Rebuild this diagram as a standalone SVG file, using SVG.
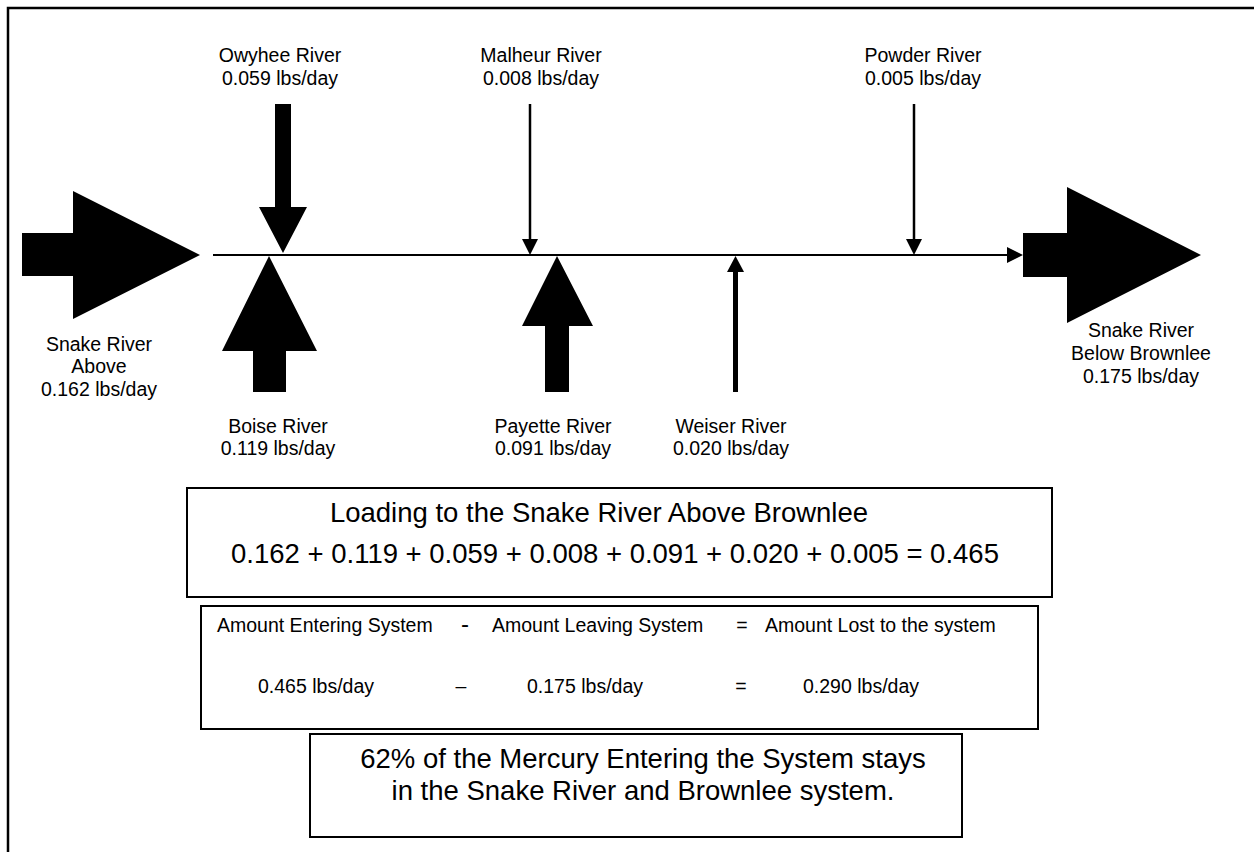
<svg xmlns="http://www.w3.org/2000/svg" width="1254" height="852" viewBox="0 0 1254 852">
<style>
text{font-family:"Liberation Sans",Arial,sans-serif;fill:#000}
.lbl{font-size:19.5px;text-anchor:middle}
.sm{font-size:19.5px}
.big{font-size:27.5px;text-anchor:middle}
.box{fill:#fff;stroke:#000;stroke-width:2}
.blk{fill:#000;stroke:none}
.ln{stroke:#000;fill:none}
</style>
<rect width="1254" height="852" fill="#fff"/>
<path d="M8,852 V8 H1254" class="ln" stroke-width="2.5"/>
<g id="connectors">
<line x1="213" y1="255" x2="1008" y2="255" class="ln" stroke-width="2"/>
<polygon points="1007,247 1023,255 1007,263" class="blk"/>
</g>
<g id="snake-above">
<polygon points="22,233 73,233 73,191 200,255 73,319 73,276 22,276" class="blk"/>
<text class="lbl" x="99" y="351">Snake River</text>
<text class="lbl" x="99" y="373">Above</text>
<text class="lbl" x="99" y="396">0.162 lbs/day</text>
</g>
<g id="snake-below">
<polygon points="1023,233 1067,233 1067,187 1201,255 1067,323 1067,277 1023,277" class="blk"/>
<text class="lbl" x="1141" y="337">Snake River</text>
<text class="lbl" x="1141" y="360">Below Brownlee</text>
<text class="lbl" x="1141" y="383">0.175 lbs/day</text>
</g>
<g id="owyhee">
<polygon points="275,104 291,104 291,207 307,207 283,253 259,207 275,207" class="blk"/>
<text class="lbl" x="280" y="62">Owyhee River</text>
<text class="lbl" x="280" y="85">0.059 lbs/day</text>
</g>
<g id="malheur">
<line x1="530" y1="104" x2="530" y2="240" class="ln" stroke-width="2.5"/>
<polygon points="522,239 538,239 530,255" class="blk"/>
<text class="lbl" x="541" y="62">Malheur River</text>
<text class="lbl" x="541" y="85">0.008 lbs/day</text>
</g>
<g id="powder">
<line x1="914" y1="104" x2="914" y2="240" class="ln" stroke-width="2.5"/>
<polygon points="906,239 922,239 914,255" class="blk"/>
<text class="lbl" x="923" y="62">Powder River</text>
<text class="lbl" x="923" y="85">0.005 lbs/day</text>
</g>
<g id="boise">
<polygon points="269,256 317,351 286,351 286,392 253,392 253,351 222,351" class="blk"/>
<text class="lbl" x="278" y="433">Boise River</text>
<text class="lbl" x="278" y="455">0.119 lbs/day</text>
</g>
<g id="payette">
<polygon points="557,256 593,326 569,326 569,392 545,392 545,326 522,326" class="blk"/>
<text class="lbl" x="553" y="433">Payette River</text>
<text class="lbl" x="553" y="455">0.091 lbs/day</text>
</g>
<g id="weiser">
<line x1="735.5" y1="270" x2="735.5" y2="392" class="ln" stroke-width="5"/>
<polygon points="735.5,256 744,272 727,272" class="blk"/>
<text class="lbl" x="731" y="433">Weiser River</text>
<text class="lbl" x="731" y="455">0.020 lbs/day</text>
</g>
<g id="loading-box">
<rect x="187" y="488" width="865" height="109" class="box"/>
<text class="big" x="599" y="522">Loading to the Snake River Above Brownlee</text>
<text class="big" x="615" y="563">0.162 + 0.119 + 0.059 + 0.008 + 0.091 + 0.020 + 0.005 = 0.465</text>
</g>
<g id="balance-box">
<rect x="201" y="606" width="837" height="123" class="box"/>
<text class="sm" x="217" y="632">Amount Entering System</text>
<text x="465" y="632" style="font-size:24px;text-anchor:middle">-</text>
<text class="sm" x="492" y="632">Amount Leaving System</text>
<text class="sm" x="742" y="632" text-anchor="middle">=</text>
<text class="sm" x="765" y="632">Amount Lost to the system</text>
<text class="sm" x="258" y="693">0.465 lbs/day</text>
<text class="sm" x="461" y="693" text-anchor="middle">–</text>
<text class="sm" x="527" y="693">0.175 lbs/day</text>
<text class="sm" x="741" y="693" text-anchor="middle">=</text>
<text class="sm" x="803" y="693">0.290 lbs/day</text>
</g>
<g id="result-box">
<rect x="310" y="734" width="652" height="103" class="box"/>
<text class="big" x="643" y="768">62% of the Mercury Entering the System stays</text>
<text class="big" x="643" y="800">in the Snake River and Brownlee system.</text>
</g>
</svg>
